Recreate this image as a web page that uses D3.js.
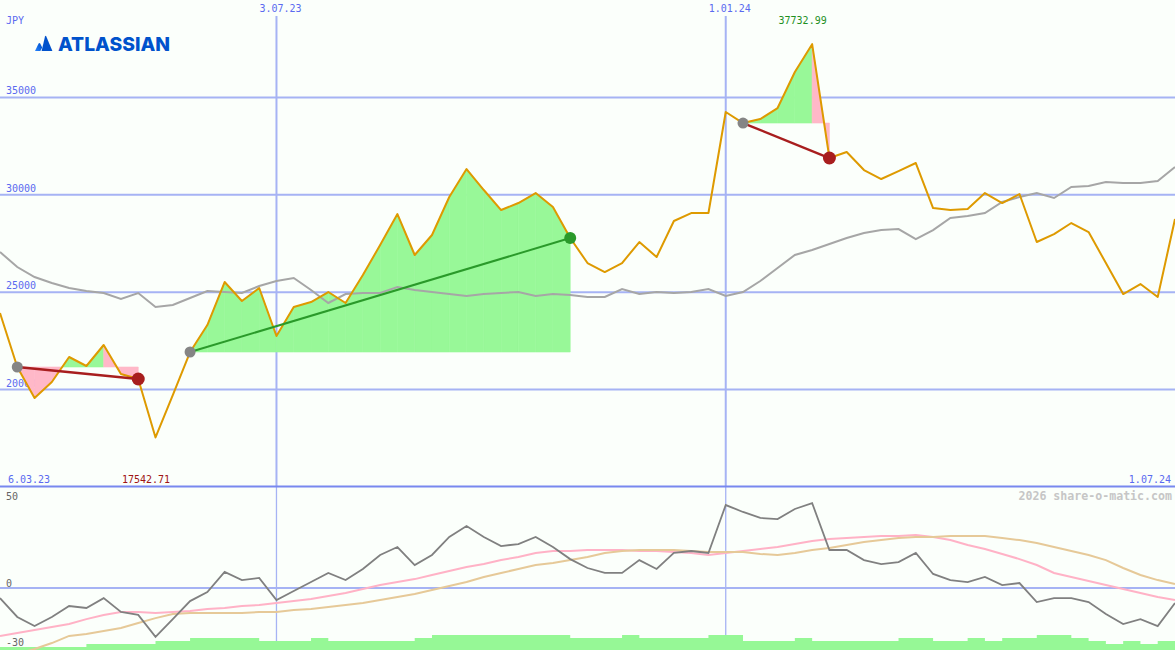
<!DOCTYPE html>
<html><head><meta charset="utf-8">
<script src="https://cdn.jsdelivr.net/npm/d3@7"></script>
<style>
html,body{margin:0;padding:0;background:#fbfffb;}
svg{display:block;}
text{font-family:"DejaVu Sans Mono",monospace;font-size:10px;}
</style></head><body>
<svg id="c" width="1175" height="650"></svg>
<script>
// ---------- data ----------
const firstWeek = "2023-03-13";
const lastWeek = "2024-07-01";
const currency = "JPY";
const brand = "ATLASSIAN";
const watermark = "2026 share-o-matic.com";
const price = [23932,21160,19568,20390,21673,21211,22289,20800,20544,17542.71,19722,21930,23315,25523,24547,25215,22751,24239,24496,25009,24445,25882,27422,29013,26909,27935,29886,31323,30245,29218,29578,30091,29372,27781,26498,26036,26498,27576,26806,28654,29064,29064,34249,33684,33889,34454,36302,37732.99,31888,32196,31272,30810,31220,31631,29321,29218,29270,30091,29578,30040,27576,27986,28551,28089,26498,24907,25420,24753,28756];
const movingAvg = [27063,26293,25779,25471,25215,25061,24958,24650,24958,24239,24342,24701,25061,25009,24958,25317,25574,25728,25112,24445,24907,24958,24958,25266,25112,25009,24907,24804,24907,24958,25009,24804,24907,24855,24753,24753,25163,24907,25009,24958,25009,25163,24804,25009,25574,26241,26909,27165,27473,27781,28038,28192,28243,27730,28192,28808,28910,29064,29629,29886,30091,29834,30399,30450,30656,30604,30604,30707,31426];
const momentum = [-5.1,-14.6,-19.2,-14.6,-9.1,-10.1,-5.1,-12.1,-13.6,-24.7,-15.7,-6.6,-2.0,8.1,4.0,5.1,-6.1,-1.5,3.0,7.6,4.0,9.6,16.7,20.7,11.6,16.7,25.8,31.3,25.8,21.2,22.2,25.8,20.7,14.6,10.1,7.6,7.6,14.1,9.6,17.7,18.7,17.7,41.9,38.4,35.4,34.8,39.9,42.9,19.2,19.2,14.1,12.1,13.1,17.7,7.1,4.0,3.0,5.6,1.5,2.5,-7.1,-5.1,-5.1,-7.1,-13.1,-18.2,-15.7,-19.2,-7.6];
const signalPink = [-24.2,-22.7,-21.2,-19.7,-18.2,-15.7,-13.6,-12.1,-12.1,-12.6,-12.1,-11.6,-10.6,-10.1,-9.1,-8.6,-7.6,-6.6,-5.6,-4.0,-2.5,-0.5,1.5,3.0,4.5,6.6,8.6,10.6,12.1,14.1,15.7,17.7,18.7,18.7,19.2,19.2,19.2,18.7,18.7,18.2,17.7,16.7,17.7,18.7,19.7,20.7,22.2,23.7,24.7,25.3,25.8,26.3,26.3,26.8,25.8,24.2,21.7,19.7,17.2,14.6,11.6,7.6,5.6,3.5,1.5,-0.5,-2.5,-4.5,-6.1];
const signalTan = [-34.3,-33.3,-30.8,-27.8,-24.2,-23.2,-21.7,-20.2,-17.7,-15.2,-13.1,-12.6,-12.6,-12.6,-12.6,-12.1,-12.1,-11.1,-10.6,-9.6,-8.6,-7.6,-6.1,-4.5,-3.0,-1.0,1.0,3.0,5.6,7.6,9.6,11.6,12.6,14.1,15.7,17.7,18.7,19.2,19.2,19.2,18.7,18.2,18.2,18.2,17.2,16.7,17.7,19.2,20.2,21.7,23.2,24.2,25.3,25.8,25.8,26.3,26.3,26.3,25.3,24.2,22.7,20.7,18.7,16.7,14.1,10.1,6.6,4.0,2.0];
const volume = [1,1,1,1,1,2,2,2,2,3,3,4,4,4,4,3,3,3,4,3,3,3,3,3,4,5,5,5,5,5,5,5,5,4,4,4,5,4,4,4,4,5,5,3,3,3,4,3,3,3,3,3,4,4,3,3,4,3,4,4,5,5,4,3,2,3,2,3];
const priceTicks = [35000,30000,25000,20000];
const lowerTicks = [50,0,-30];
const dateTicks = ["2023-07-03","2024-01-01"];
const dateTickLabels = ["3.07.23","1.01.24"];
const periodLabels = ["6.03.23","1.07.24"];
const tradeEntry = [1,11,43];
const tradeExit = [8,33,48];

// ---------- setup ----------
const W = 1175, H = 650;
const parse = d3.utcParse("%Y-%m-%d");
const dates = d3.utcMonday.range(parse(firstWeek), d3.utcDay.offset(parse(lastWeek), 1));
const svg = d3.select("#c");
const x = d3.scaleUtc().domain([dates[0], dates[dates.length-1]]).range([0, W]);
const y = d3.scaleLinear().domain([15000, 40000]).range([487, 0]);
const yL = d3.scaleLinear().domain([-31.3, 50]).range([650, 489]);
const yV = d3.scaleLinear().domain([0, 5]).range([650, 635]);

const gridCol = "#a6b3f4", labelCol = "#5a6af0";
const green = "#98f898", pink = "#ffb8c8";

svg.append("rect").attr("width", W).attr("height", H).attr("fill", "#fbfffb");

// horizontal grid (main)
svg.append("g").selectAll("line").data(priceTicks).join("line")
  .attr("x1", 0).attr("x2", W).attr("y1", d => y(d)).attr("y2", d => y(d))
  .attr("stroke", gridCol).attr("stroke-width", 2);
// lower zero line
svg.append("line").attr("x1", 0).attr("x2", W).attr("y1", yL(0)).attr("y2", yL(0))
  .attr("stroke", gridCol).attr("stroke-width", 2);
// vertical grid
const vd = dateTicks.map(parse);
svg.append("g").selectAll("line").data(vd).join("line")
  .attr("x1", d => x(d)).attr("x2", d => x(d)).attr("y1", 16).attr("y2", 487)
  .attr("stroke", gridCol).attr("stroke-width", 2);
svg.append("g").selectAll("line").data(vd).join("line")
  .attr("x1", d => x(d)).attr("x2", d => x(d)).attr("y1", 487).attr("y2", H)
  .attr("stroke", gridCol).attr("stroke-width", 1.3);
// separator
svg.append("line").attr("x1", 0).attr("x2", W).attr("y1", 486.5).attr("y2", 486.5)
  .attr("stroke", "#7888ef").attr("stroke-width", 2.2);

// labels main axis
svg.append("g").selectAll("text").data(priceTicks).join("text")
  .attr("x", 6).attr("y", d => y(d) - 3).attr("fill", labelCol).text(d => d);
svg.append("g").selectAll("text").data(vd).join("text")
  .attr("x", d => x(d) + 4).attr("y", 12).attr("text-anchor", "middle")
  .attr("fill", labelCol).text((d, i) => dateTickLabels[i]);
svg.append("text").attr("x", 8).attr("y", 483).attr("fill", labelCol).text(periodLabels[0]);
svg.append("text").attr("x", 1171).attr("y", 483).attr("text-anchor", "end").attr("fill", labelCol).text(periodLabels[1]);
svg.append("text").attr("x", 6).attr("y", 24).attr("fill", labelCol).text(currency);

// lower labels
svg.append("g").selectAll("text").data(lowerTicks).join("text")
  .attr("x", 6).attr("y", d => (yL(d) - 2 < 500 ? yL(d) + 11 : Math.min(yL(d) - 1.5, 647)))
  .attr("fill", "#666").text(d => d);

// watermark
svg.append("text").attr("x", 1172).attr("y", 500).attr("text-anchor", "end")
  .attr("fill", "#c6c6c6").style("font-weight", "bold").style("font-size", "11.6px").text(watermark);

// logo
const defs = svg.append("defs");
const lg = defs.append("linearGradient").attr("id", "lg").attr("x1", "100%").attr("y1", "20%").attr("x2", "0%").attr("y2", "100%");
lg.append("stop").attr("offset", "0%").attr("stop-color", "#0052cc");
lg.append("stop").attr("offset", "100%").attr("stop-color", "#2684ff");
svg.append("path").attr("d", "M35,51 L38.6,43.6 Q39.4,42.5 40.2,43.6 L42.2,47.5 L40.4,51 Z").attr("fill", "url(#lg)");
svg.append("path").attr("d", "M41.6,51 L45,36.6 Q45.6,35 46.3,36.6 L52.4,51 Z").attr("fill", "#0052cc");
svg.append("text").attr("x", 58).attr("y", 51).attr("fill", "#0052cc")
  .attr("textLength", 112).attr("lengthAdjust", "spacingAndGlyphs")
  .style("font-family", "Inter, 'Open Sans', sans-serif").style("font-weight", "800").style("font-size", "19px")
  .text(brand);

// trade fills
const fillG = svg.append("g");
tradeEntry.forEach((a, ti) => {
  const b = tradeExit[ti];
  const e = price[a];
  const loss = price[b] < e;
  let peak = a;
  for (let k = a; k <= b; k++) if (price[k] > price[peak]) peak = k;
  const area = d3.area().x(d => x(d.d)).y0(y(e)).y1(d => y(d.v));
  for (let k = a; k < b; k++) {
    const v0 = price[k], v1 = price[k + 1];
    const pieces = [];
    if ((v0 - e) * (v1 - e) < 0) {
      const t = (e - v0) / (v1 - v0);
      const dm = new Date(+dates[k] + (+dates[k + 1] - +dates[k]) * t);
      pieces.push([{d: dates[k], v: v0}, {d: dm, v: e}]);
      pieces.push([{d: dm, v: e}, {d: dates[k + 1], v: v1}]);
    } else pieces.push([{d: dates[k], v: v0}, {d: dates[k + 1], v: v1}]);
    pieces.forEach(p => {
      const above = (p[0].v + p[1].v) / 2 >= e;
      const col = (loss && k >= peak) ? pink : (above ? green : pink);
      fillG.append("path").attr("d", area(p)).attr("fill", col).attr("stroke", col).attr("stroke-width", 0.6);
    });
  }
});

// lines main
const idx = d3.range(dates.length);
const lineOf = (arr, ys) => d3.line().x(i => x(dates[i])).y(i => ys(arr[i]));
svg.append("path").attr("d", lineOf(movingAvg, y)(idx)).attr("fill", "none")
  .attr("stroke", "#a6a6a6").attr("stroke-width", 2);
svg.append("path").attr("d", lineOf(price, y)(idx)).attr("fill", "none")
  .attr("stroke", "#de9a00").attr("stroke-width", 2).attr("stroke-linejoin", "round");

// trades
tradeEntry.forEach((a, ti) => {
  const b = tradeExit[ti];
  const loss = price[b] < price[a];
  const col = loss ? "#a81e1e" : "#2a9a2a";
  svg.append("line").attr("x1", x(dates[a])).attr("y1", y(price[a]))
    .attr("x2", x(dates[b])).attr("y2", y(price[b]))
    .attr("stroke", col).attr("stroke-width", loss ? 2.4 : 2);
  svg.append("circle").attr("cx", x(dates[a])).attr("cy", y(price[a])).attr("r", 5.5).attr("fill", "#858585");
  svg.append("circle").attr("cx", x(dates[b])).attr("cy", y(price[b])).attr("r", loss ? 6.5 : 6).attr("fill", col);
});

// min / max labels
const iMax = d3.maxIndex(price), iMin = d3.minIndex(price);
svg.append("text").attr("x", x(dates[iMax]) - 9.5).attr("y", 24).attr("text-anchor", "middle")
  .attr("fill", "#1f901f").text(price[iMax].toFixed(2));
svg.append("text").attr("x", x(dates[iMin]) - 9.5).attr("y", 483).attr("text-anchor", "middle")
  .attr("fill", "#a01515").text(price[iMin].toFixed(2));

// lower panel
const volData = volume.map((v, i) => ({d: dates[i], v}));
volData.push({d: dates[dates.length - 1], v: volume[volume.length - 1]});
svg.append("path").attr("d", d3.area().curve(d3.curveStepAfter).x(d => x(d.d)).y0(yV(0)).y1(d => yV(d.v))(volData))
  .attr("fill", "#96f896");
svg.append("path").attr("d", lineOf(signalPink, yL)(idx)).attr("fill", "none").attr("stroke", "#ffb2c6").attr("stroke-width", 2);
svg.append("path").attr("d", lineOf(signalTan, yL)(idx)).attr("fill", "none").attr("stroke", "#e6c998").attr("stroke-width", 2);
svg.append("path").attr("d", lineOf(momentum, yL)(idx)).attr("fill", "none").attr("stroke", "#808080").attr("stroke-width", 1.8);
</script>
</body></html>
